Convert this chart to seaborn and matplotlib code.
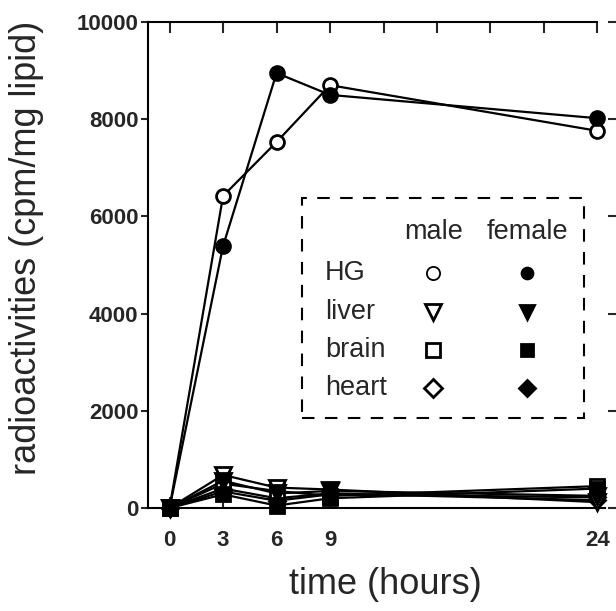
import matplotlib
matplotlib.use("Agg")
import matplotlib.pyplot as plt
import matplotlib.patches as mpatches
import seaborn as sns

# ---------------- data ----------------
hours = [0, 3, 6, 9, 24]
hg_male = [0, 6420, 7530, 8700, 7760]
hg_female = [0, 5390, 8950, 8500, 8020]
liver_male = [0, 680, 420, 380, 120]
liver_female = [0, 560, 300, 350, 250]
brain_male = [0, 500, 350, 250, 450]
brain_female = [0, 280, 50, 200, 400]
heart_male = [0, 400, 200, 300, 160]
heart_female = [0, 340, 150, 280, 220]

organs = ["HG", "liver", "brain", "heart"]
sexes = ["male", "female"]
x_ticks = [0, 3, 6, 9, 24]
y_ticks = [0, 2000, 4000, 6000, 8000, 10000]

series = {
    ("HG", "male"): hg_male, ("HG", "female"): hg_female,
    ("liver", "male"): liver_male, ("liver", "female"): liver_female,
    ("brain", "male"): brain_male, ("brain", "female"): brain_female,
    ("heart", "male"): heart_male, ("heart", "female"): heart_female,
}
markers = {"HG": "o", "liver": "v", "brain": "s", "heart": "D"}
msize = {"HG": 10, "liver": 11, "brain": 10, "heart": 8.5}

# ---------------- style ----------------
sns.set_style("ticks")
plt.rcParams["font.family"] = ["Liberation Sans", "DejaVu Sans"]

W, H = 616, 611
fig = plt.figure(figsize=(W / 100, H / 100), dpi=100)
L, R, T, B = 148, 616, 22, 508
ax = fig.add_axes([L / W, 1 - B / H, (R - L) / W, (B - T) / H])

# draw small organs first, HG on top
for organ in ["heart", "brain", "liver", "HG"]:
    for sex in sexes:
        vals = series[(organ, sex)]
        sns.lineplot(x=hours, y=vals, ax=ax, color="black", lw=1.6,
                     marker=markers[organ], markersize=msize[organ],
                     markerfacecolor="white" if sex == "male" else "black",
                     markeredgecolor="black", markeredgewidth=2.0,
                     clip_on=False, legend=False, sort=True,
                     zorder=5 if organ == "HG" else 3)

ax.set_xlim(-1.21, 25.04)
ax.set_ylim(0, 10000)

ax.set_xticks(x_ticks)
ax.set_xticklabels([str(v) for v in x_ticks], fontsize=16, fontweight="bold")
ax.set_yticks(y_ticks)
ax.set_yticklabels([str(v) for v in y_ticks], fontsize=16, fontweight="bold")

ax.tick_params(axis="x", which="both", direction="in", length=8, width=1.5,
               top=True, pad=16)
ax.tick_params(axis="y", which="both", direction="out", length=5, width=1.5,
               pad=2, right=False)
# top minor ticks every 3 h
ax.set_xticks([12, 15, 18, 21], minor=True)
ax.tick_params(axis="x", which="minor", bottom=False, top=True,
               direction="in", length=8, width=1.5)

# right inward ticks via twin axis
ax2 = ax.twinx()
ax2.set_ylim(ax.get_ylim())
ax2.set_yticks(y_ticks)
ax2.set_yticklabels([])
ax2.tick_params(axis="y", direction="in", length=6, width=1.5)
for s in ["top", "bottom", "left", "right"]:
    ax2.spines[s].set_visible(False)

for s in ["left", "bottom", "top"]:
    ax.spines[s].set_linewidth(1.5)
    ax.spines[s].set_color("black")
ax.spines["right"].set_visible(False)
ax.spines["top"].set_bounds(-1.21, 24)
ax.spines["bottom"].set_bounds(-1.21, 24.45)

ax.set_xlabel("time (hours)", fontsize=26)
ax.set_ylabel("radioactivities (cpm/mg lipid)", fontsize=26)
ax.xaxis.set_label_coords((385 - L) / (R - L), -(585 - B) / (B - T))
ax.yaxis.set_label_coords(-(148 - 27) / (R - L), (B - 248) / (B - T))
ax.xaxis.label.set_va("center")
ax.yaxis.label.set_va("center")

# ---------------- custom legend ----------------
def fx(px):
    return (px - L) / (R - L)

def fy(py):
    return (B - py) / (B - T)

box = mpatches.Rectangle((fx(302), fy(418)), fx(584) - fx(302), fy(198) - fy(418),
                         transform=ax.transAxes, fill=False, lw=1.5,
                         ls=(0, (6, 5)), edgecolor="black", zorder=6)
ax.add_patch(box)
ax.text(fx(434), fy(232), "male", transform=ax.transAxes, fontsize=19.5,
        ha="center", va="center", zorder=7)
ax.text(fx(527), fy(232), "female", transform=ax.transAxes, fontsize=19.5,
        ha="center", va="center", zorder=7)
row_y = [273, 312, 350, 388]
leg_size = {"HG": 9.5, "liver": 11, "brain": 10, "heart": 9}
for organ, py in zip(organs, row_y):
    ax.text(fx(325), fy(py), organ, transform=ax.transAxes, fontsize=19.5,
            ha="left", va="center", zorder=7)
    for sex, px in zip(sexes, [433, 527]):
        ax.plot([fx(px)], [fy(py)], transform=ax.transAxes,
                marker=markers[organ], markersize=leg_size[organ] * (1.0 if sex == "male" else 0.9),
                markerfacecolor="white" if sex == "male" else "black",
                markeredgecolor="black",
                markeredgewidth=1.3 if organ == "HG" else 2.0,
                ls="none", clip_on=False, zorder=7)

fig.savefig("out.png", dpi=100)
